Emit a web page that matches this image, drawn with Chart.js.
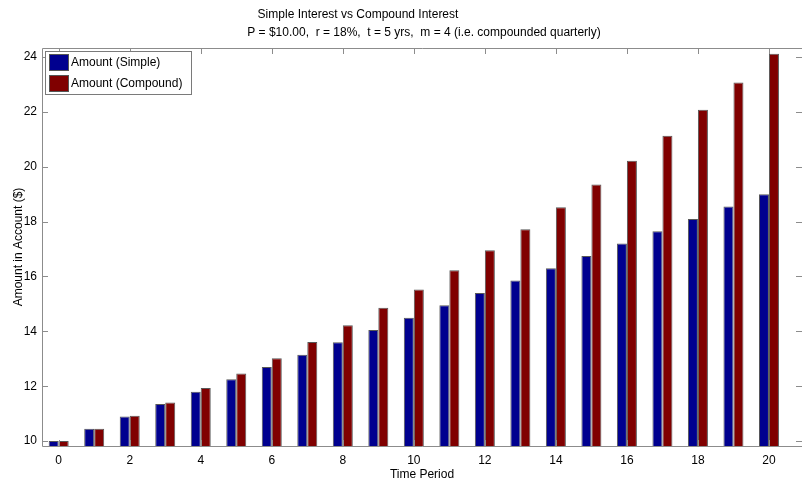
<!DOCTYPE html>
<html>
<head>
<meta charset="utf-8">
<script src="https://cdn.jsdelivr.net/npm/chart.js@4.4.1/dist/chart.umd.min.js"></script>
<style>
  html, body { margin: 0; padding: 0; background: #fff; }
  #wrap { width: 802px; height: 479px; }
</style>
</head>
<body>
<div id="wrap"><canvas id="myChart" width="802" height="479"></canvas></div>
<script>
// data
const periods = [0, 1, 2, 3, 4, 5, 6, 7, 8, 9, 10, 11, 12, 13, 14, 15, 16, 17, 18, 19, 20];
const simpleAmt = [10.00, 10.45, 10.90, 11.35, 11.80, 12.25, 12.70, 13.15, 13.60, 14.05, 14.50,
                   14.95, 15.40, 15.85, 16.30, 16.75, 17.20, 17.65, 18.10, 18.55, 19.00];
const compoundAmt = [10.00, 10.45, 10.92, 11.41, 11.93, 12.46, 13.02, 13.61, 14.22, 14.86, 15.53,
                     16.23, 16.96, 17.72, 18.52, 19.35, 20.22, 21.13, 22.08, 23.07, 24.12];
const xTicks = [0, 2, 4, 6, 8, 10, 12, 14, 16, 18, 20];
const yTicks = [10, 12, 14, 16, 18, 20, 22, 24];
const titleLine1 = 'Simple Interest vs Compound Interest';
const titleLine2 = 'P = $10.00,  r = 18%,  t = 5 yrs,  m = 4 (i.e. compounded quarterly)';

const FONT = '"Liberation Sans", Arial, Helvetica, sans-serif';
const AXIS_GREY = '#8c8c8c';

// matlab style frame, inward ticks, title and legend box
const matlabLook = {
    id: 'matlabLook',
    afterDraw(chart) {
        const ctx = chart.ctx;
        const a = chart.chartArea;
        const xs = chart.scales.x, ys = chart.scales.y;
        const tl = 6;
        ctx.save();
        ctx.strokeStyle = AXIS_GREY;
        ctx.lineWidth = 1;
        ctx.beginPath();
        ctx.moveTo(a.left + 0.5, a.top + 0.5);
        ctx.lineTo(a.left + 0.5, a.bottom + 0.5);
        ctx.lineTo(a.right, a.bottom + 0.5);
        ctx.moveTo(a.left + 0.5, a.top + 0.5);
        ctx.lineTo(a.right, a.top + 0.5);
        xTicks.forEach(v => {
            const px = Math.round(xs.getPixelForValue(v)) + 0.5;
            ctx.moveTo(px, a.bottom);
            ctx.lineTo(px, a.bottom - tl);
            ctx.moveTo(px, a.top);
            ctx.lineTo(px, a.top + tl);
        });
        yTicks.forEach(v => {
            const py = Math.round(ys.getPixelForValue(v)) + 0.5;
            ctx.moveTo(a.left, py);
            ctx.lineTo(a.left + tl, py);
            ctx.moveTo(a.right, py);
            ctx.lineTo(a.right - tl, py);
        });
        ctx.stroke();

        // title
        ctx.fillStyle = '#000';
        ctx.font = '12px ' + FONT;
        ctx.textAlign = 'center';
        ctx.textBaseline = 'middle';
        ctx.fillText(titleLine1, 358, 15);
        ctx.fillText(titleLine2, 424, 33);

        // legend
        const lx = 45, ly = 51, lw = 146, lh = 43;
        ctx.fillStyle = '#fff';
        ctx.fillRect(lx, ly, lw, lh);
        ctx.strokeStyle = '#7a7a7a';
        ctx.strokeRect(lx + 0.5, ly + 0.5, lw, lh);
        chart.data.datasets.forEach((ds, i) => {
            const sy = 54 + i * 21;
            ctx.fillStyle = ds.backgroundColor;
            ctx.fillRect(49, sy, 19, 16);
            ctx.strokeStyle = '#555';
            ctx.strokeRect(49.5, sy + 0.5, 19, 16);
            ctx.fillStyle = '#000';
            ctx.textAlign = 'left';
            ctx.fillText(ds.label, 71, sy + 8.5);
        });
        ctx.restore();
    }
};

const cht = document.getElementById('myChart').getContext('2d');

const myChart = new Chart(cht, {
    type: 'bar',
    data: {
        datasets: [{
            label: 'Amount (Simple)',
            data: periods.map((p, i) => ({ x: p, y: simpleAmt[i] })),
            backgroundColor: 'rgb(0, 0, 143)',
            borderColor: 'rgba(70, 70, 70, 0.9)',
            borderWidth: 1
        }, {
            label: 'Amount (Compound)',
            data: periods.map((p, i) => ({ x: p, y: compoundAmt[i] })),
            backgroundColor: 'rgb(128, 0, 0)',
            borderColor: 'rgba(70, 70, 70, 0.9)',
            borderWidth: 1
        }]
    },
    options: {
        responsive: false,
        animation: false,
        categoryPercentage: 0.563,
        barPercentage: 1.0,
        layout: { padding: { top: 48, right: 0, left: 0, bottom: 0 } },
        plugins: {
            legend: { display: false },
            tooltip: { enabled: false }
        },
        scales: {
            x: {
                type: 'linear',
                offset: false,
                min: -0.47,
                max: 20.93,
                afterBuildTicks: s => { s.ticks = xTicks.map(v => ({ value: v })); },
                afterFit: s => { s.height = 33; },
                grid: { display: false, drawTicks: false, offset: false },
                border: { display: false },
                ticks: { color: '#000', padding: 7, font: { family: FONT, size: 12 } },
                title: {
                    display: true,
                    text: 'Time Period',
                    color: '#000',
                    padding: { top: 0, bottom: -2 },
                    font: { family: FONT, size: 12, lineHeight: 1 }
                }
            },
            y: {
                min: 9.82,
                max: 24.33,
                afterBuildTicks: s => { s.ticks = yTicks.map(v => ({ value: v })); },
                afterFit: s => { s.width = 42; },
                grid: { display: false, drawTicks: false },
                border: { display: false },
                ticks: { color: '#000', padding: 5, font: { family: FONT, size: 12 } },
                title: {
                    display: true,
                    text: 'Amount in Account ($)',
                    color: '#000',
                    padding: { top: 13, bottom: 0 },
                    font: { family: FONT, size: 12, lineHeight: 1 }
                }
            }
        }
    },
    plugins: [matlabLook]
});
</script>
</body>
</html>
